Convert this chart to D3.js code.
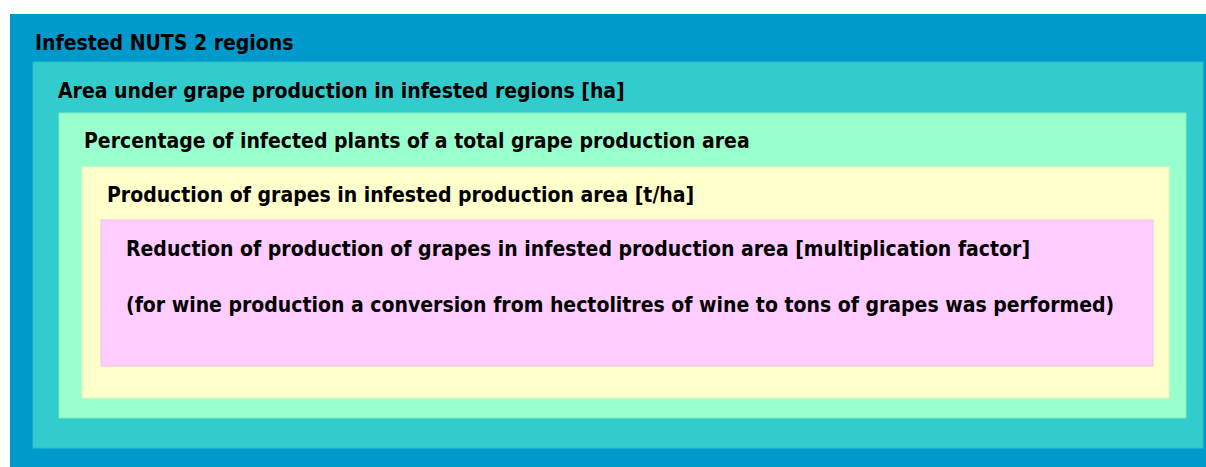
<!DOCTYPE html>
<html>
<head>
<meta charset="utf-8">
<script src="https://cdn.jsdelivr.net/npm/d3@7"></script>
<style>
  body { margin: 0; background: #fff; }
  text { font-family: "DejaVu Sans Condensed", "DejaVu Sans", sans-serif; font-stretch: condensed; font-weight: bold; fill: #000; }
</style>
</head>
<body>
<div id="chart"></div>
<script>
// Nested levels, outermost first
var levels = [
  "Infested NUTS 2 regions",
  "Area under grape production in infested regions [ha]",
  "Percentage of infected plants of a total grape production area",
  "Production of grapes in infested production area [t/ha]",
  "Reduction of production of grapes in infested production area [multiplication factor]"
];
var notes = ["", "", "", "", "(for wine production a conversion from hectolitres of wine to tons of grapes was performed)"];
var fills = ["#0099CC", "#33CCCC", "#99FFCC", "#FFFFCC", "#FFCCFF"];
var strokes = ["#0099CC", "#2FBFC8", "#7FEFC0", "#EFEFBF", "#F0C0F0"];

// Define SVG area dimensions
var svgWidth = 1206;
var svgHeight = 467;

// Box edges for each level (layout)
var boxLeft = [10, 33, 59, 82, 101];
var boxTop = [14, 62, 113, 167, 220];
var boxRight = [1206, 1203, 1186, 1169, 1153];
var boxBottom = [467, 448, 418, 398, 366];
var labelX = [35, 58, 84, 107, 126];
var labelY = [50, 98, 148, 202, 256];
var noteGap = 56;

var svg = d3.select("#chart")
  .append("svg")
    .attr("width", svgWidth)
    .attr("height", svgHeight);

var idx = d3.range(levels.length);

// Create the boxes
svg.selectAll("rect.box")
  .data(idx)
  .enter()
  .append("rect")
  .attr("class", "box")
  .attr("x", i => boxLeft[i])
  .attr("y", i => boxTop[i])
  .attr("width", i => boxRight[i] - boxLeft[i])
  .attr("height", i => boxBottom[i] - boxTop[i])
  .attr("fill", i => fills[i])
  .attr("stroke", i => i === 0 ? "none" : strokes[i])
  .attr("stroke-width", 1);

// Labels
svg.selectAll("text.label")
  .data(idx)
  .enter()
  .append("text")
  .attr("class", "label")
  .attr("x", i => labelX[i])
  .attr("y", i => labelY[i])
  .style("font-size", "21px")
  .text(i => levels[i]);

svg.selectAll("text.note")
  .data(idx.filter(i => notes[i]))
  .enter()
  .append("text")
  .attr("class", "note")
  .attr("x", i => labelX[i])
  .attr("y", i => labelY[i] + noteGap)
  .style("font-size", "21px")
  .text(i => notes[i]);
</script>
</body>
</html>
